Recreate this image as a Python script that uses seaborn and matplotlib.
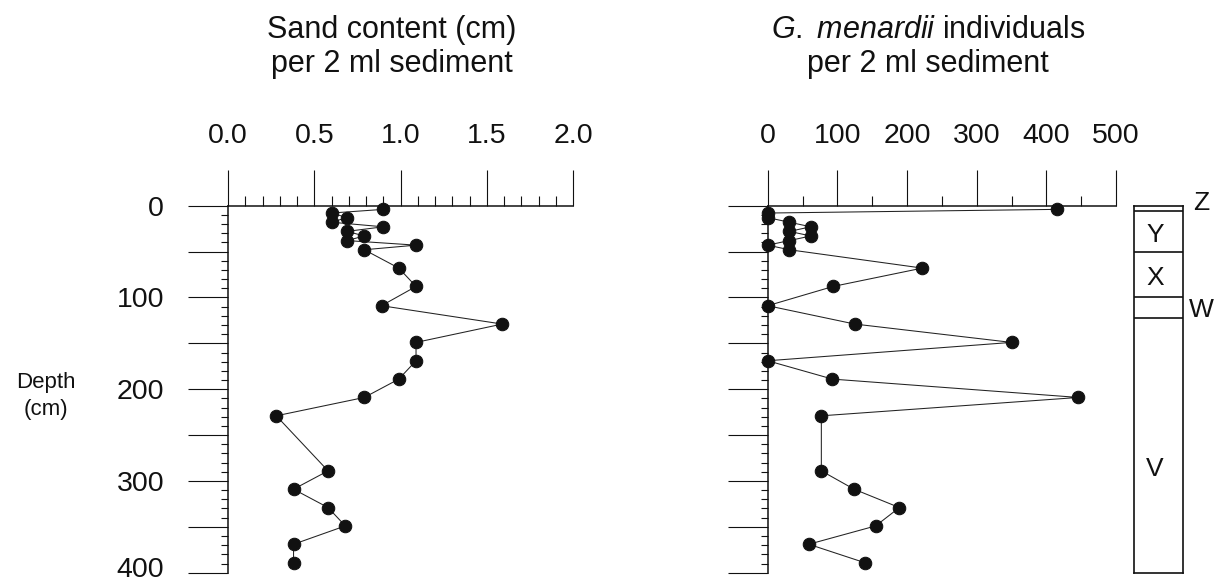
import numpy as np
import pandas as pd
import seaborn as sns
import matplotlib.pyplot as plt
from matplotlib.ticker import MultipleLocator, FuncFormatter
from matplotlib.transforms import ScaledTranslation

# depth of each sample (cm)
depth = [4, 8, 13, 18, 23, 28, 33, 38, 43, 48, 68, 88, 109, 129, 149,
         169, 189, 209, 229, 289, 309, 329, 349, 369, 389]
# sand content (cm) per 2 ml sediment
sand = [0.90, 0.60, 0.69, 0.60, 0.90, 0.69, 0.79, 0.69, 1.09, 0.79, 0.99, 1.09,
        0.89, 1.59, 1.09, 1.09, 0.99, 0.79, 0.28, 0.58, 0.38, 0.58, 0.68, 0.38, 0.38]
# G. menardii individuals per 2 ml sediment
menardii = [415, 0, 0, 31, 62, 31, 62, 31, 0, 31, 222, 94, 0, 125, 350,
            0, 93, 446, 77, 77, 124, 189, 155, 59, 139]

# lithological units (depth boundaries) and their names
unit_bounds = [0, 6, 50, 100, 122, 400]
unit_names = ["Z", "Y", "X", "W", "V"]

df = pd.DataFrame({"depth": depth, "sand": sand, "menardii": menardii})

sns.set_theme(style="ticks")
plt.rcParams['font.family'] = ['Liberation Sans', 'DejaVu Sans']
plt.rcParams['mathtext.fontset'] = 'custom'
plt.rcParams['mathtext.rm'] = 'Liberation Sans'
plt.rcParams['mathtext.it'] = 'Liberation Sans:italic'

W, H = 1221, 586
fig = plt.figure(figsize=(W / 100, H / 100), dpi=100)
fig.patch.set_facecolor('white')


def px_axes(x0, x1, y0, y1):
    return fig.add_axes([x0 / W, 1 - y1 / H, (x1 - x0) / W, (y1 - y0) / H])


ax1 = px_axes(228, 573, 205.7, 572.7)
ax2 = px_axes(767.7, 1116, 205.7, 572.7)
ax3 = px_axes(1134.3, 1182.7, 205.7, 572.7)

line_kw = dict(estimator=None, sort=False, color='#222222', linewidth=0.75,
               marker='o', markersize=9, markerfacecolor='#111111',
               markeredgecolor='#111111', clip_on=False, legend=False)

sns.lineplot(data=df, x='sand', y='depth', ax=ax1, **line_kw)
sns.lineplot(data=df, x='menardii', y='depth', ax=ax2, **line_kw)

for ax in (ax1, ax2):
    ax.set_ylim(400, 0)
    ax.set_facecolor('white')
    ax.set_xlabel('')
    ax.set_ylabel('')
    for s in ('right', 'bottom'):
        ax.spines[s].set_visible(False)
    for s in ('top', 'left'):
        ax.spines[s].set_linewidth(1.1)
        ax.spines[s].set_color('#111111')
    ax.xaxis.tick_top()
    ax.yaxis.set_major_locator(MultipleLocator(50))
    ax.yaxis.set_minor_locator(MultipleLocator(10))
    ax.tick_params(axis='x', which='major', direction='out', length=26, width=0.8,
                   pad=15, labelsize=20.5, colors='#111111', top=True, bottom=False)
    ax.tick_params(axis='x', which='minor', direction='out', length=7, width=0.8,
                   top=True, bottom=False, colors='#111111')
    ax.tick_params(axis='y', which='major', direction='out', length=29, width=0.8,
                   pad=17, labelsize=20.5, colors='#111111')
    ax.tick_params(axis='y', which='minor', direction='out', length=5, width=0.8,
                   colors='#111111')

ax1.set_xlim(0, 2.0)
ax1.xaxis.set_major_locator(MultipleLocator(0.5))
ax1.xaxis.set_minor_locator(MultipleLocator(0.1))
ax1.xaxis.set_major_formatter(FuncFormatter(lambda v, p: f"{v:.1f}"))
ax1.yaxis.set_major_formatter(FuncFormatter(lambda v, p: f"{v:.0f}" if round(v) % 100 == 0 else ""))

ax2.set_xlim(0, 500)
ax2.xaxis.set_major_locator(MultipleLocator(100))
ax2.xaxis.set_minor_locator(MultipleLocator(50))
ax2.xaxis.set_major_formatter(FuncFormatter(lambda v, p: f"{v:.0f}"))
ax2.yaxis.set_major_formatter(FuncFormatter(lambda v, p: ""))

# lithology column
ax3.set_ylim(400, 0)
ax3.set_xlim(0, 1)
ax3.set_xticks([])
ax3.set_yticks([])
ax3.set_facecolor('white')
for s in ax3.spines.values():
    s.set_visible(True)
    s.set_linewidth(1.2)
    s.set_color('#111111')
ax3.hlines(unit_bounds[1:-1], 0, 1, color='#111111', linewidth=1.2)
mids = [(a + b) / 2 for a, b in zip(unit_bounds[:-1], unit_bounds[1:])]
for name, lo, hi, mid in zip(unit_names, unit_bounds[:-1], unit_bounds[1:], mids):
    if hi - lo < 30:
        ax3.text(1.38, mid - 6 if name == "Z" else mid + 3, name, fontsize=19,
                 ha='center', va='center', clip_on=False, color='#111111')
    elif name == "V":
        ax3.text(0.43, 287, name, fontsize=19, ha='center', va='center', color='#111111')
    else:
        ax3.text(0.43, mid + 4, name, fontsize=19, ha='center', va='center', color='#111111')

# panel titles
title_kw = dict(fontsize=22, ha='center', va='baseline', color='#111111')
fig.text(392 / W, 1 - 38 / H, "Sand content (cm)", **title_kw)
fig.text(392 / W, 1 - 72 / H, "per 2 ml sediment", **title_kw)
fig.text(928 / W, 1 - 38 / H, r"$\mathit{G.}$ $\mathit{menardii}$ individuals", **title_kw)
fig.text(928 / W, 1 - 72 / H, "per 2 ml sediment", **title_kw)

# depth label
fig.text(46 / W, 1 - 388 / H, "Depth", fontsize=16, ha='center', va='baseline',
         color='#111111')
fig.text(46 / W, 1 - 415 / H, "(cm)", fontsize=16, ha='center', va='baseline',
         color='#111111')

# lift the bottom depth label a little so it stays inside the figure
fig.canvas.draw()
for tick in ax1.yaxis.get_major_ticks():
    if tick.label1.get_text() == "400":
        lab = tick.label1
        lab.set_transform(lab.get_transform() + ScaledTranslation(0, 6 / 100, fig.dpi_scale_trans))

fig.savefig('out.png', dpi=100, facecolor='white')
